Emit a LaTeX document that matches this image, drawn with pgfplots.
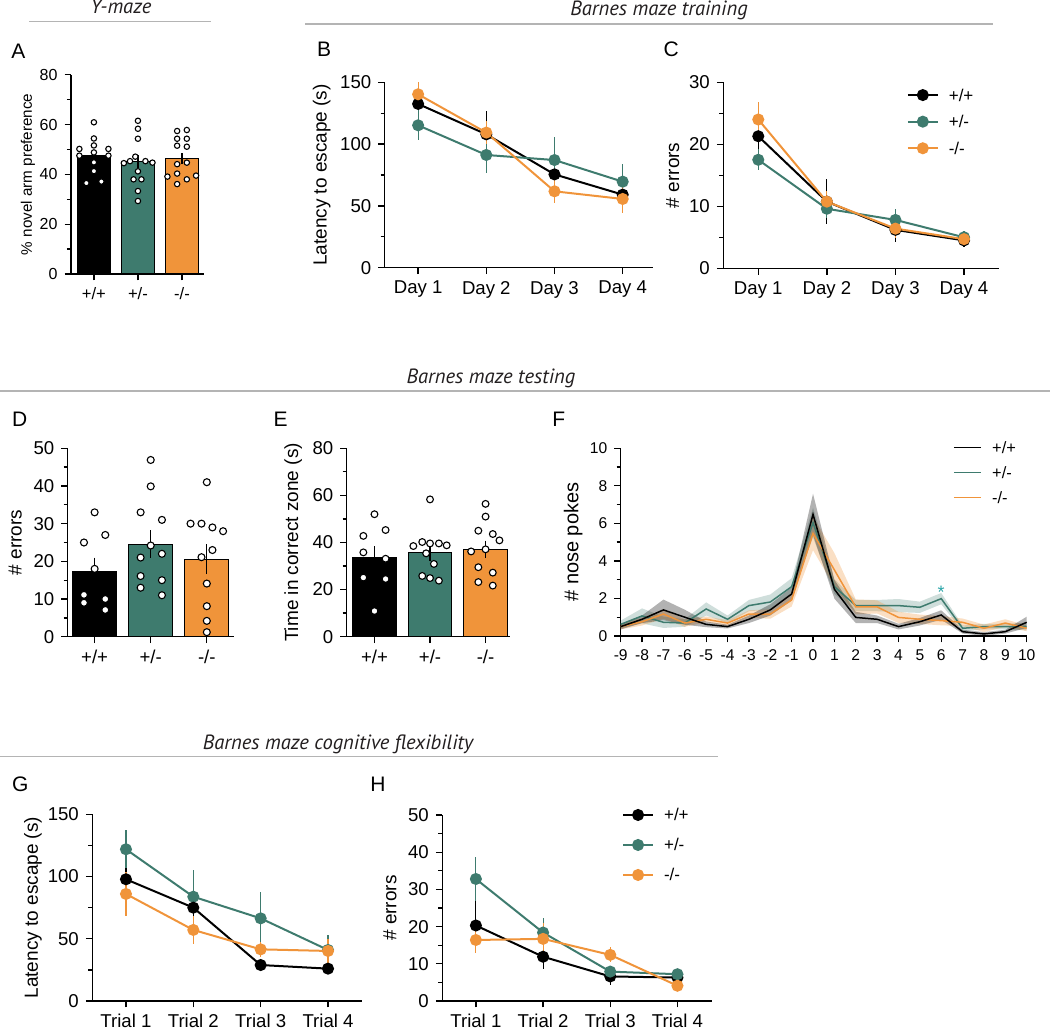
\documentclass[border=0pt]{standalone}
\usepackage{fontspec}
\setmainfont{Liberation Sans}
\newfontfamily\ttlfont{PT Sans}
\usepackage{pgfplots}
\usepackage{pgfplotstable}
\pgfplotsset{compat=1.18}
\usepgfplotslibrary{fillbetween}

\definecolor{gk}{HTML}{3E7B6E}
\definecolor{ok}{HTML}{F0943A}
\definecolor{rulegray}{HTML}{B4B4B4}
\definecolor{star}{HTML}{2BA5A8}
\definecolor{ttl}{HTML}{231F20}

\newcommand\fs[1]{\fontsize{#1}{#1}\selectfont}

\pgfplotsset{
  base/.style={scale only axis, axis x line*=bottom, axis y line*=left,
    axis line style={-, line width=0.65pt}, tick align=outside,
    major tick length=3.2pt, minor tick length=2pt,
    tick style={black, line width=0.65pt}, minor y tick num=1,
    /pgf/number format/assume math mode=true, clip=false,
    tick label style={font=\fs{9.3}}, label style={font=\fs{9.5}},
    anchor=south west},
  yl/.style={ylabel style={at={([xshift=-#1]axis description cs:0,0.5)}, anchor=center}},
  lp/.style={line width=1pt, mark=*, mark size=2.5pt, mark options={solid},
    error bars/y dir=both, error bars/y explicit, error bars/error mark=none,
    error bars/error bar style={line width=0.55pt}},
  dots/.style={only marks, mark=*, mark size=#1, mark options={fill=white, draw=black, line width=0.55pt}},
  mybar/.style={ybar, bar shift=0pt, draw=black, line width=0.5pt,
    error bars/y dir=both, error bars/y explicit, error bars/error mark=none,
    error bars/error bar style={black, line width=0.6pt}},
  lgd/.style={legend cell align=left, legend style={draw=none, fill=none, inner sep=0pt,
    font=\fs{8.5}, nodes={inner sep=0pt, text height=6pt, text depth=0pt},
    /tikz/every odd column/.append style={column sep=5pt}}},
}

\pgfplotstableread{
x b be g ge o oe
-9 0.50 0.15 0.62 0.20 0.50 0.15
-8 0.89 0.20 1.07 0.40 0.76 0.20
-7 1.39 0.55 0.73 0.30 1.17 0.25
-6 1.00 0.40 0.69 0.20 0.69 0.20
-5 0.62 0.15 1.44 0.35 0.89 0.15
-4 0.50 0.10 0.89 0.20 0.69 0.15
-3 0.89 0.20 1.62 0.30 1.17 0.20
-2 1.39 0.30 1.81 0.40 1.17 0.25
-1 2.24 0.35 2.63 0.45 1.92 0.35
0 6.48 1.10 6.04 0.80 5.47 0.90
1 2.49 0.50 2.63 0.40 3.52 0.90
2 0.99 0.30 1.62 0.30 1.55 0.40
3 0.89 0.20 1.62 0.30 1.55 0.35
4 0.50 0.15 1.62 0.35 0.99 0.30
5 0.76 0.20 1.53 0.30 0.89 0.25
6 1.12 0.25 1.99 0.30 0.82 0.25
7 0.23 0.10 0.41 0.15 0.73 0.20
8 0.11 0.10 0.50 0.15 0.41 0.20
9 0.23 0.10 0.50 0.15 0.69 0.20
10 0.73 0.30 0.50 0.20 0.41 0.15
}\Fdata

\begin{document}
\begin{tikzpicture}

% ---------- section titles ----------
\node[anchor=base, inner sep=0pt, font=\ttlfont\itshape\fs{10.3}, text=ttl] at (60.5pt,507.75pt) {Y-maze};
\draw[rulegray, line width=0.8pt] (14.5pt,503.75pt) -- (105.5pt,503.75pt);
\node[anchor=base, inner sep=0pt, font=\ttlfont\itshape\fs{10.3}, text=ttl] at (329.5pt,506.5pt) {Barnes maze training};
\draw[rulegray, line width=0.8pt] (152.5pt,502.5pt) -- (496.5pt,502.5pt);
\node[anchor=base, inner sep=0pt, font=\ttlfont\itshape\fs{10.3}, text=ttl] at (245.5pt,322.5pt) {Barnes maze testing};
\draw[rulegray, line width=0.8pt] (0pt,319pt) -- (525pt,319pt);
\node[anchor=base, inner sep=0pt, font=\ttlfont\itshape\fs{10.3}, text=ttl] at (169pt,139.5pt) {Barnes maze cognitive flexibility};
\draw[rulegray, line width=0.8pt] (0pt,136.25pt) -- (359pt,136.25pt);

% ---------- panel letters ----------
\begin{scope}[every node/.style={anchor=base west, inner sep=0pt, font=\fs{10.5}}]
\node at (5.5pt,485.25pt) {A};
\node at (158.35pt,486.15pt) {B};
\node at (331.65pt,486.15pt) {C};
\node at (5.85pt,301.15pt) {D};
\node at (136.65pt,301.15pt) {E};
\node at (276pt,301.15pt) {F};
\node at (5.85pt,118.65pt) {G};
\node at (185pt,118.65pt) {H};
\end{scope}

% ---------- A ----------
\begin{axis}[base, at={(35.5pt,377.5pt)}, width=66.5pt, height=99.65pt,
  xmin=-0.52, xmax=2.5, ymin=0, ymax=80, ytick={0,20,40,60,80},
  xtick={0,1,2}, xticklabels={+/+,+/-,-/-},
  yticklabel style={font=\fs{8}}, xticklabel style={font=\fs{8.3}}, label style={font=\fs{7.6}},
  yl=21.5pt, ylabel={\% novel arm preference}]
\addplot[mybar, bar width=0.75, fill=black] coordinates {(0,47.5) +- (0,2.0)};
\addplot[mybar, bar width=0.75, fill=gk] coordinates {(1,45.1) +- (0,2.5)};
\addplot[mybar, bar width=0.75, fill=ok] coordinates {(2,46.3) +- (0,2.2)};
\addplot[dots=1.35pt] coordinates {(0,60.9)(0,54.4)(0,51.6)(-0.33,50.2)(0.33,50.2)(0,48.8)(-0.33,47.5)(0.33,47.5)(0,44.8)(0,41.3)(-0.17,36.5)(0.17,37.1)};
\addplot[dots=1.35pt] coordinates {(1,61.5)(1,58.3)(1,54.3)(0.94,47.1)(0.68,44.5)(0.82,45.3)(1.17,45.3)(1.33,44.7)(1,41.2)(0.9,38)(1.08,38)(1,33.3)(1,29.3)};
\addplot[dots=1.35pt] coordinates {(1.89,57.4)(2.11,57.8)(1.89,54.3)(2.11,54.3)(1.89,51.5)(2.11,51.1)(1.89,44.1)(2.11,44.7)(1.67,39.1)(1.89,40.3)(2.11,38)(2.32,39.5)(1.89,36.1)};
\end{axis}

% ---------- B ----------
\begin{axis}[base, at={(192.35pt,380.65pt)}, width=134pt, height=92.7pt,
  xmin=0.51, xmax=4.44, ymin=0, ymax=150, ytick={0,50,100,150},
  xtick={1,2,3,4}, xticklabels={Day 1,Day 2,Day 3,Day 4},
  yl=31.5pt, ylabel={Latency to escape (s)}]
\addplot[lp, black] coordinates {(1,132.5) +- (0,6) (2,107.9) +- (0,18.6) (3,75.5) +- (0,8) (4,59.1) +- (0,6)};
\addplot[lp, gk] coordinates {(1,115.2) +- (0,12) (2,91.2) +- (0,14.3) (3,87.1) +- (0,19) (4,69.6) +- (0,14)};
\addplot[lp, ok] coordinates {(1,140.3) +- (0,10) (2,109.3) +- (0,9) (3,61.8) +- (0,9.5) (4,55.6) +- (0,11.6)};
\end{axis}

% ---------- C ----------
\begin{axis}[base, lgd, at={(361.65pt,380.35pt)}, width=137.85pt, height=93pt,
  xmin=0.49, xmax=4.51, ymin=0, ymax=30, ytick={0,10,20,30},
  xtick={1,2,3,4}, xticklabels={Day 1,Day 2,Day 3,Day 4},
  yl=25.3pt, ylabel={\# errors},
  legend style={at={(axis cs:3.16,23.65)}, anchor=west, row sep=7.3pt},
  legend image code/.code={\draw[mark repeat=2,mark phase=2,#1] plot coordinates {(0pt,0pt) (7.5pt,0pt) (15pt,0pt)};}]
\addplot[lp, black] coordinates {(1,21.3) +- (0,2) (2,10.75) +- (0,3.6) (3,6.2) +- (0,1.9) (4,4.5) +- (0,1)};
\addlegendentry{+/+}
\addplot[lp, gk] coordinates {(1,17.5) +- (0,1.7) (2,9.6) +- (0,1.5) (3,7.8) +- (0,1.7) (4,5.0) +- (0,1)};
\addlegendentry{+/-}
\addplot[lp, ok] coordinates {(1,24.0) +- (0,2.9) (2,10.75) +- (0,1.7) (3,6.4) +- (0,1.5) (4,4.7) +- (0,0.8)};
\addlegendentry{-/-}
\end{axis}

% ---------- D ----------
\begin{axis}[base, at={(33.85pt,196.15pt)}, width=83.3pt, height=94.2pt,
  xmin=-0.48, xmax=2.49, ymin=0, ymax=50, ytick={0,10,20,30,40,50},
  xtick={0,1,2}, xticklabels={+/+,+/-,-/-},
  yl=26.3pt, ylabel={\# errors}]
\addplot[mybar, bar width=0.786, fill=black] coordinates {(0,17.4) +- (0,3.6)};
\addplot[mybar, bar width=0.786, fill=gk] coordinates {(1,24.6) +- (0,3.7)};
\addplot[mybar, bar width=0.786, fill=ok] coordinates {(2,20.6) +- (0,4.0)};
\addplot[dots=1.75pt] coordinates {(0,33)(0.19,27)(-0.19,25)(0,18)(-0.19,11.1)(-0.19,9)(0.19,10)(0.19,7.1)};
\addplot[dots=1.75pt] coordinates {(1,46.9)(1,39.9)(0.82,33)(1.2,31)(1,24.2)(0.82,21)(1.2,22)(0.82,16.1)(1.2,15)(0.82,13)(1.2,11)};
\addplot[dots=1.75pt] coordinates {(2,41)(1.71,30)(1.905,30)(2.1,29)(2.29,28)(2.1,23)(1.905,21.1)(2,14.1)(2,8.1)(2,4.2)(2,1.2)};
\end{axis}

% ---------- E ----------
\begin{axis}[base, at={(173.35pt,196.15pt)}, width=81.65pt, height=94.2pt,
  xmin=-0.5, xmax=2.44, ymin=0, ymax=80, ytick={0,20,40,60,80},
  xtick={0,1,2}, xticklabels={+/+,+/-,-/-},
  yl=26.8pt, ylabel={Time in correct zone (s)}]
\addplot[mybar, bar width=0.78, fill=black] coordinates {(0,33.6) +- (0,4.9)};
\addplot[mybar, bar width=0.78, fill=gk] coordinates {(1,35.8) +- (0,3.8)};
\addplot[mybar, bar width=0.78, fill=ok] coordinates {(2,37.1) +- (0,3.7)};
\addplot[dots=1.7pt] coordinates {(0,52)(0.2,45.3)(-0.2,42.8)(-0.2,35.8)(0.2,33.1)(-0.2,25.1)(0.2,24.5)(0,10.9)};
\addplot[dots=1.7pt] coordinates {(1,58.3)(0.7,38.5)(0.86,40.2)(1,39.6)(1.16,39.6)(1.3,38.8)(0.93,35.4)(1.07,30.9)(0.86,25.8)(1,24.9)(1.16,23.8)};
\addplot[dots=1.7pt] coordinates {(2,56.4)(2,51)(1.87,45)(2.13,43.6)(2.25,40.9)(1.74,36.2)(2,37.1)(1.87,29.5)(2.13,27.2)(1.87,23.2)(2.13,21.7)};
\end{axis}

% ---------- F ----------
\begin{axis}[base, lgd, at={(310.35pt,196.5pt)}, width=203pt, height=93.85pt,
  xmin=-9, xmax=10, ymin=0, ymax=10, ytick={0,2,4,6,8,10},
  xtick={-9,-8,...,10}, tick label style={font=\fs{7.8}}, label style={font=\fs{10}},
  yl=23.8pt, ylabel={\# nose pokes},
  legend style={at={(axis cs:6.54,8.72)}, anchor=west, row sep=6.5pt, font=\fs{8.2}},
  legend image code/.code={\draw[#1] (0pt,0pt) -- (13.7pt,0pt);}]
\addlegendimage{black, line width=0.8pt}\addlegendentry{+/+}
\addlegendimage{gk, line width=0.8pt}\addlegendentry{+/-}
\addlegendimage{ok, line width=0.8pt}\addlegendentry{-/-}
\addplot[name path=gu, draw=none, forget plot] table[x=x, y expr=\thisrow{g}+\thisrow{ge}]{\Fdata};
\addplot[name path=gl, draw=none, forget plot] table[x=x, y expr=\thisrow{g}-\thisrow{ge}]{\Fdata};
\addplot[gk, fill opacity=0.25, draw=none, forget plot] fill between[of=gu and gl];
\addplot[name path=ou, draw=none, forget plot] table[x=x, y expr=\thisrow{o}+\thisrow{oe}]{\Fdata};
\addplot[name path=ol, draw=none, forget plot] table[x=x, y expr=\thisrow{o}-\thisrow{oe}]{\Fdata};
\addplot[ok, fill opacity=0.3, draw=none, forget plot] fill between[of=ou and ol];
\addplot[name path=bu, draw=none, forget plot] table[x=x, y expr=\thisrow{b}+\thisrow{be}]{\Fdata};
\addplot[name path=bl, draw=none, forget plot] table[x=x, y expr=\thisrow{b}-\thisrow{be}]{\Fdata};
\addplot[black, fill opacity=0.3, draw=none, forget plot] fill between[of=bu and bl];
\addplot[gk, line width=0.75pt, forget plot] table[x=x, y=g]{\Fdata};
\addplot[ok, line width=0.75pt, forget plot] table[x=x, y=o]{\Fdata};
\addplot[black, line width=0.75pt, forget plot] table[x=x, y=b]{\Fdata};
\node[text=star, font=\fs{9}, inner sep=0pt] at (axis cs:6,2.35) {*};
\end{axis}

% ---------- G ----------
\begin{axis}[base, at={(46.15pt,14pt)}, width=134.7pt, height=93.35pt,
  xmin=0.5, xmax=4.5, ymin=0, ymax=150, ytick={0,50,100,150},
  xtick={1,2,3,4}, xticklabels={Trial 1,Trial 2,Trial 3,Trial 4},
  yl=29.7pt, ylabel={Latency to escape (s)}]
\addplot[lp, gk] coordinates {(1,121.9) +- (0,15.5) (2,83.8) +- (0,21.5) (3,66.4) +- (0,21) (4,41.0) +- (0,12)};
\addplot[lp, black] coordinates {(1,97.8) +- (0,9) (2,75.0) +- (0,7) (3,28.9) +- (0,3) (4,26.0) +- (0,2)};
\addplot[lp, ok] coordinates {(1,86.0) +- (0,18) (2,57.1) +- (0,11.3) (3,41.5) +- (0,6) (4,40.2) +- (0,10)};
\end{axis}

% ---------- H ----------
\begin{axis}[base, lgd, at={(221.15pt,14pt)}, width=134.7pt, height=93pt,
  xmin=0.5, xmax=4.51, ymin=0, ymax=50, ytick={0,10,20,30,40,50},
  xtick={1,2,3,4}, xticklabels={Trial 1,Trial 2,Trial 3,Trial 4},
  yl=26.2pt, ylabel={\# errors},
  legend style={at={(axis cs:3.17,41.94)}, anchor=west, row sep=9pt},
  legend image code/.code={\draw[mark repeat=2,mark phase=2,#1] plot coordinates {(0pt,0pt) (7.5pt,0pt) (15pt,0pt)};}]
\addplot[lp, black] coordinates {(1,20.3) +- (0,7) (2,11.9) +- (0,3.4) (3,6.6) +- (0,2.3) (4,6.3) +- (0,1)};
\addlegendentry{+/+}
\addplot[lp, gk] coordinates {(1,32.8) +- (0,6) (2,18.4) +- (0,3.8) (3,7.9) +- (0,1) (4,7.2) +- (0,1.5)};
\addlegendentry{+/-}
\addplot[lp, ok] coordinates {(1,16.4) +- (0,3.4) (2,16.7) +- (0,4.2) (3,12.4) +- (0,2) (4,4.1) +- (0,1)};
\addlegendentry{-/-}
\end{axis}

\pgfresetboundingbox
\path[use as bounding box] (0pt,0pt) rectangle (525pt,514.5pt);
\end{tikzpicture}
\end{document}
